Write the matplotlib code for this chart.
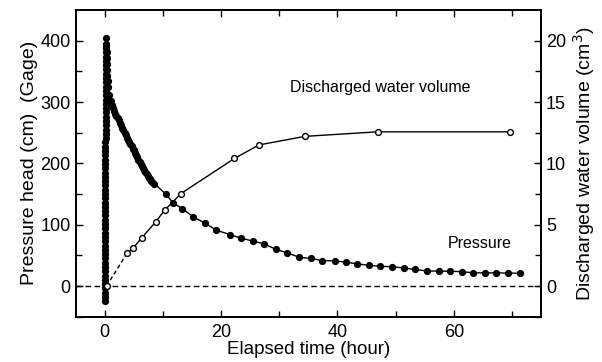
import matplotlib.pyplot as plt

plt.rcParams['font.family'] = ['Liberation Sans', 'DejaVu Sans']

# Pressure head (cm), gage -- pressurising at t~0 (dense readings)
t_rise = [0.00, 0.00, 0.01, 0.01, 0.01, 0.02, 0.02, 0.02, 0.03, 0.03,
          0.03, 0.04, 0.04, 0.04, 0.05, 0.05, 0.05, 0.06, 0.06, 0.06,
          0.07, 0.07, 0.07, 0.08, 0.08, 0.08, 0.09, 0.09, 0.09, 0.10,
          0.10, 0.10, 0.11, 0.11, 0.11, 0.12, 0.12, 0.12, 0.13, 0.13,
          0.13, 0.14, 0.14, 0.14, 0.15, 0.15, 0.15, 0.16, 0.16, 0.16,
          0.17, 0.17, 0.17, 0.18, 0.18, 0.18, 0.19, 0.19, 0.19, 0.20,
          0.22, 0.25, 0.28, 0.31, 0.34, 0.38, 0.42, 0.46, 0.50]
p_rise = [-25, -18, -11, -4, 3, 10, 17, 24, 31, 38,
          45, 52, 59, 66, 73, 80, 87, 94, 101, 108,
          115, 122, 129, 136, 143, 150, 157, 164, 171, 178,
          185, 192, 199, 206, 213, 220, 227, 234, 241, 248,
          255, 262, 269, 276, 283, 290, 297, 304, 311, 318,
          325, 332, 339, 346, 353, 360, 367, 374, 381, 388,
          395, 404, 392, 382, 372, 362, 352, 342, 334]

# decay after shut-in
t_decay = [0.6, 0.8, 1.0, 1.2, 1.4, 1.6, 1.8, 2.0, 2.2, 2.4,
           2.6, 2.8, 3.0, 3.2, 3.4, 3.6, 3.8, 4.0, 4.2, 4.4,
           4.6, 4.8, 5.0, 5.2, 5.4, 5.6, 5.8, 6.0, 6.2, 6.4,
           6.6, 6.8, 7.0, 7.2, 7.4, 7.6, 7.8, 8.0, 8.2, 8.5,
           10.5, 11.7, 13.35, 15.2, 17.3, 19.2, 21.5, 23.4, 25.4, 27.3,
           29.4, 31.4, 33.4, 35.4, 37.4, 39.5, 41.5, 43.4, 45.4, 47.4,
           49.3, 51.4, 53.4, 55.4, 57.4, 59.4, 61.4, 63.3, 65.3, 67.3,
           69.4, 71.4]
p_decay = [325, 312, 302, 295, 290, 285, 281, 278, 274, 270,
           266, 262, 258, 254, 250, 246, 242, 238, 235, 232,
           228, 224, 221, 217, 214, 210, 206, 202, 199, 196,
           192, 189, 186, 182, 179, 176, 174, 172, 170, 167,
           150, 136, 126, 113, 102, 91, 84, 78, 73.5, 69,
           60, 54, 47, 45, 41.5, 41, 39, 36, 34, 32,
           31.7, 29.4, 27, 24.5, 24.5, 24, 23.5, 21.5, 21.5, 21.5,
           21, 21]

# Discharged water volume (cm3)
t_vol = [0.3, 3.83, 4.87, 6.36, 8.8, 10.3, 13.1, 22.3, 26.5, 34.4, 46.9, 69.7]
volume = [0.0, 2.67, 3.1, 3.92, 5.26, 6.18, 7.54, 10.4, 11.5, 12.2, 12.57, 12.57]

t_press = t_rise + t_decay
pressure = p_rise + p_decay

fig = plt.figure(figsize=(6.02, 3.62), dpi=100)
ax = fig.add_axes([0.1257, 0.1251, 0.773, 0.8473])
ax2 = ax.twinx()

ax.axhline(0, color='k', ls='--', lw=1.0, dashes=(4, 2.5))
ax.plot(t_press, pressure, '-o', color='k', lw=1.0, ms=4.2, mfc='k', mec='k')

ax2.plot(t_vol[:2], volume[:2], '--', color='k', lw=1.0, dashes=(3, 2))
ax2.plot(t_vol[1:], volume[1:], '-', color='k', lw=1.0)
ax2.plot(t_vol, volume, 'o', color='k', ms=4.2, mfc='white', mec='k', mew=1.0)

ax.set_xlim(-5, 75)
ax.set_ylim(-50, 450)
ax2.set_ylim(-2.5, 22.5)

ax.set_xticks([0, 20, 40, 60])
ax.set_xticks([10, 30, 50, 70], minor=True)
ax.set_yticks([0, 100, 200, 300, 400])
ax.set_yticks([-50, 50, 150, 250, 350], minor=True)
ax2.set_yticks([0, 5, 10, 15, 20])
ax2.set_yticks([-2.5, 2.5, 7.5, 12.5, 17.5], minor=True)

ax.tick_params(which='both', direction='in', top=True, labelsize=13, width=1.0)
ax.tick_params(which='major', length=5)
ax.tick_params(which='minor', length=4)
ax.tick_params(axis='x', pad=5)
ax2.tick_params(which='both', direction='in', labelsize=13, width=1.0)
ax2.tick_params(which='major', length=5)
ax2.tick_params(which='minor', length=4)

for a in (ax, ax2):
    for s in a.spines.values():
        s.set_linewidth(1.3)

ax.set_xlabel('Elapsed time (hour)', fontsize=13.5, labelpad=0)
ax.set_ylabel('Pressure head (cm)  (Gage)', fontsize=14, labelpad=2)
ax2.set_ylabel('Discharged water volume (cm$^3$)', fontsize=14, labelpad=4)

ax.text(47.3, 323, 'Discharged water volume', fontsize=11.5, ha='center', va='center')
ax.text(64.4, 70, 'Pressure', fontsize=11.5, ha='center', va='center')

fig.savefig('out.png', dpi=100)
